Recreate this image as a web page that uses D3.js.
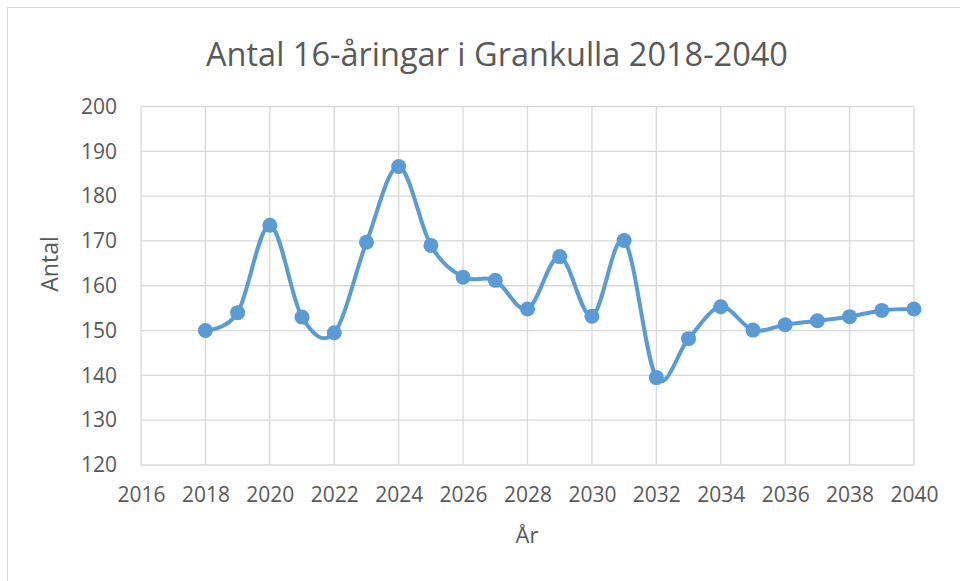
<!DOCTYPE html>
<html>
<head>
<meta charset="utf-8">
<script src="https://cdn.jsdelivr.net/npm/d3@7"></script>
<style>
  body { margin: 0; background: #fff; }
  svg { display: block; font-family: "Open Sans", "Noto Sans", sans-serif; }
</style>
</head>
<body>
<svg width="960" height="581"></svg>
<script>
// data
var years = [2018, 2019, 2020, 2021, 2022, 2023, 2024, 2025, 2026, 2027, 2028,
             2029, 2030, 2031, 2032, 2033, 2034, 2035, 2036, 2037, 2038, 2039, 2040];
var antal = [150.0, 154.0, 173.5, 153.0, 149.5, 169.7, 186.6, 169.0, 161.9, 161.2, 154.8,
             166.5, 153.2, 170.1, 139.5, 148.2, 155.3, 150.1, 151.3, 152.2, 153.1, 154.5, 154.8];
var xTicks = [2016, 2018, 2020, 2022, 2024, 2026, 2028, 2030, 2032, 2034, 2036, 2038, 2040];
var yTicks = [120, 130, 140, 150, 160, 170, 180, 190, 200];

var title = "Antal 16-åringar i Grankulla 2018-2040";
var xTitle = "År";
var yTitle = "Antal";

var svg = d3.select("svg"),
    width = +svg.attr("width"),
    height = +svg.attr("height");

var textColor = "#595959",
    gridColor = "#d9d9d9",
    lineColor = "#5b9bd5";

// chart border (only top and left edges show in the picture)
svg.append("rect")
    .attr("x", 7.5).attr("y", 7.5)
    .attr("width", 970).attr("height", 600)
    .attr("fill", "none")
    .attr("stroke", gridColor);

var plotL = 141, plotR = 914, plotT = 106.5, plotB = 465;

var x = d3.scaleLinear().domain([2016, 2040]).range([plotL, plotR]);
var y = d3.scaleLinear().domain([120, 200]).range([plotB, plotT]);

// gridlines
svg.append("g")
    .selectAll("line")
    .data(yTicks)
    .enter()
    .append("line")
    .attr("x1", plotL).attr("x2", plotR)
    .attr("y1", function(d) { return y(d); })
    .attr("y2", function(d) { return y(d); })
    .attr("stroke", gridColor)
    .attr("stroke-width", 1.3);

svg.append("g")
    .selectAll("line")
    .data(xTicks)
    .enter()
    .append("line")
    .attr("y1", plotT).attr("y2", plotB)
    .attr("x1", function(d) { return x(d); })
    .attr("x2", function(d) { return x(d); })
    .attr("stroke", gridColor)
    .attr("stroke-width", 1.3);

// axes (labels only)
var xAxis = svg.append("g")
    .attr("transform", "translate(0," + plotB + ")")
    .call(d3.axisBottom(x).tickValues(xTicks).tickFormat(d3.format("d")).tickSize(0).tickPadding(22));
var yAxis = svg.append("g")
    .attr("transform", "translate(" + plotL + ",0)")
    .call(d3.axisLeft(y).tickValues(yTicks).tickSize(0).tickPadding(24));

[xAxis, yAxis].forEach(function(a) {
    a.select(".domain").remove();
    a.selectAll("text")
        .attr("fill", textColor)
        .style("font-size", "21px")
        .style("font-family", "'Open Sans', sans-serif");
});

// line
var line = d3.line()
    .x(function(d, i) { return x(years[i]); })
    .y(function(d) { return y(d); })
    .curve(d3.curveCardinal.tension(0));

svg.append("path")
    .datum(antal)
    .attr("d", line)
    .attr("fill", "none")
    .attr("stroke", lineColor)
    .attr("stroke-width", 4)
    .attr("stroke-linejoin", "round");

svg.append("g")
    .selectAll("circle")
    .data(antal)
    .enter()
    .append("circle")
    .attr("cx", function(d, i) { return x(years[i]); })
    .attr("cy", function(d) { return y(d); })
    .attr("r", 7.5)
    .attr("fill", lineColor);

// titles
svg.append("text")
    .attr("x", 497).attr("y", 66)
    .attr("text-anchor", "middle")
    .attr("fill", textColor)
    .style("font-size", "32.5px")
    .text(title);

svg.append("text")
    .attr("x", 527).attr("y", 543)
    .attr("text-anchor", "middle")
    .attr("fill", textColor)
    .style("font-size", "22px")
    .text(xTitle);

svg.append("text")
    .attr("transform", "translate(58,264) rotate(-90)")
    .attr("text-anchor", "middle")
    .attr("fill", textColor)
    .style("font-size", "23px")
    .text(yTitle);
</script>
</body>
</html>
